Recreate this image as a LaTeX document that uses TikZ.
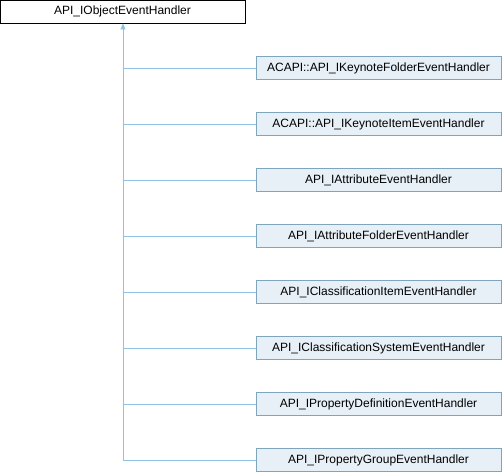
\documentclass[tikz,border=0pt]{standalone}
\usepackage{fontspec}
\setmainfont{Liberation Sans}
\usetikzlibrary{arrows.meta}
\definecolor{boxfill}{HTML}{E8F0F7}
\definecolor{boxline}{HTML}{7EA4BE}
\definecolor{edge}{HTML}{8FC3E2}
\begin{document}
\begin{tikzpicture}[x=1pt,y=-1pt,
  base/.style={draw=black,fill=white,line width=0.8pt,minimum width=245pt,minimum height=23pt,inner sep=0pt,font=\fontsize{12}{14}\selectfont,anchor=center},
  child/.style={draw=boxline,fill=boxfill,line width=0.8pt,minimum width=245pt,minimum height=23pt,inner sep=0pt,font=\fontsize{12}{14}\selectfont,anchor=center},
  conn/.style={draw=edge,line width=0.8pt}]
\useasboundingbox (0,0) rectangle (502,472);
\node[base] (root) at (122.5,11.5) {API\_IObjectEventHandler};
\foreach \i/\t in {1/ACAPI::API\_IKeynoteFolderEventHandler,
                   2/ACAPI::API\_IKeynoteItemEventHandler,
                   3/API\_IAttributeEventHandler,
                   4/API\_IAttributeFolderEventHandler,
                   5/API\_IClassificationItemEventHandler,
                   6/API\_IClassificationSystemEventHandler,
                   7/API\_IPropertyDefinitionEventHandler,
                   8/API\_IPropertyGroupEventHandler}{
  \node[child] (c\i) at (378.5,{68+56*(\i-1)}) {\t};
}
\coordinate (trunk) at (123,460);
\draw[conn,-{Triangle[width=5pt,length=6pt,fill=edge]}] (trunk) -- (root.south -| trunk);
\foreach \i in {1,...,8}{
  \draw[conn] (c\i.west) -- (c\i.west -| trunk);
}
\end{tikzpicture}
\end{document}
